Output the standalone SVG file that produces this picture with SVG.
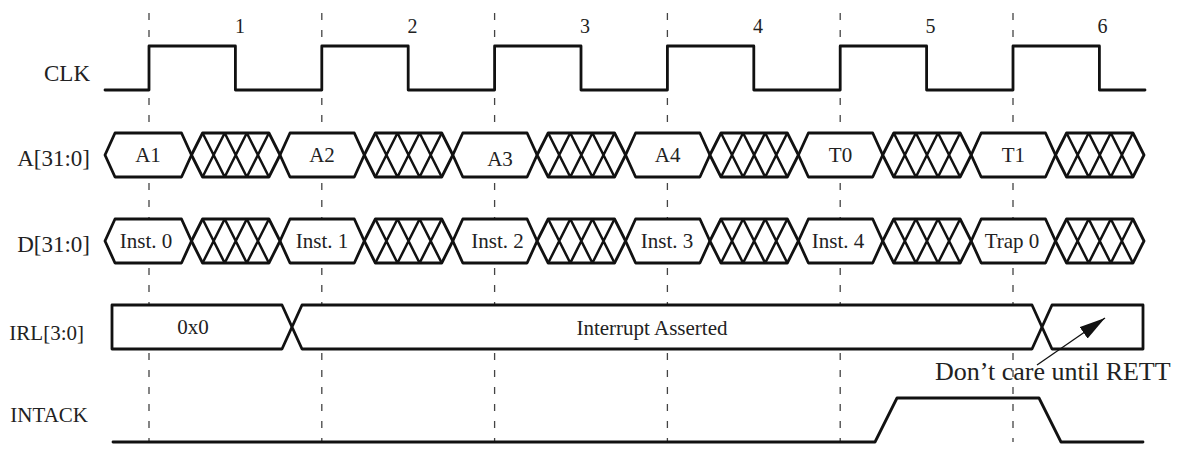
<svg xmlns="http://www.w3.org/2000/svg" xmlns:xlink="http://www.w3.org/1999/xlink" width="1186" height="450" viewBox="0 0 1186 450">
<style>
.sig{fill:none;stroke:#111;stroke-width:2.8;stroke-linejoin:round;stroke-linecap:round}
.box{fill:#fff;stroke:#111;stroke-width:2.8;stroke-linejoin:round}
.hl{stroke:#111;stroke-width:2.5;fill:none}
.dash{stroke:#444;stroke-width:1.3;stroke-dasharray:7 10;fill:none}
text{font-family:"Liberation Serif","Times New Roman",serif;fill:#222}
.lbl{font-size:23px;text-anchor:end}
.lbl2{font-size:21px;text-anchor:end}
.num{font-size:20px;text-anchor:middle}
.bt{font-size:21px;text-anchor:middle}
</style>
<defs>
<g id="hatch">
<polygon class="box" points="0,0 11.06,-22 77.44,-22 88.5,0 77.44,22 11.06,22"/>
<path class="hl" d="M11.06,-22 L33.19,22 M11.06,22 L33.19,-22 M33.19,-22 L55.31,22 M33.19,22 L55.31,-22 M55.31,-22 L77.44,22 M55.31,22 L77.44,-22"/>
</g>
<marker id="ah" markerUnits="userSpaceOnUse" markerWidth="26" markerHeight="14" refX="26" refY="7" orient="auto">
<path d="M0,0 L26,7 L0,14 z" fill="#111"/>
</marker>
</defs>
<rect width="1186" height="450" fill="#fff"/>

<g id="connectors">
<path class="dash" d="M149,13 V442 M321.8,13 V442 M494.6,13 V442 M667.4,13 V442 M840.2,13 V442 M1013,13 V442"/>
</g>

<g id="cycle-numbers">
<text class="num" x="240" y="33">1</text>
<text class="num" x="412.5" y="33">2</text>
<text class="num" x="585" y="33">3</text>
<text class="num" x="758" y="33">4</text>
<text class="num" x="930.5" y="33">5</text>
<text class="num" x="1102.5" y="33">6</text>
</g>

<g id="clk">
<text class="lbl" x="90" y="81">CLK</text>
<path class="sig" d="M105,90 H149 V46 H235.4 V90 H321.8 V46 H408.2 V90 H494.6 V46 H581 V90 H667.4 V46 H753.8 V90 H840.2 V46 H926.6 V90 H1013 V46 H1099.4 V90 H1145"/>
</g>

<g id="addr">
<text class="lbl" x="90" y="166">A[31:0]</text>
<polygon class="box" points="105,155 115,133 181.5,133 191.5,155 181.5,177 115,177"/>
<polygon class="box" points="280,155 290,133 354.3,133 364.3,155 354.3,177 290,177"/>
<polygon class="box" points="452.8,155 462.8,133 527.1,133 537.1,155 527.1,177 462.8,177"/>
<polygon class="box" points="625.6,155 635.6,133 699.9,133 709.9,155 699.9,177 635.6,177"/>
<polygon class="box" points="798.4,155 808.4,133 872.7,133 882.7,155 872.7,177 808.4,177"/>
<polygon class="box" points="971.2,155 981.2,133 1045.5,133 1055.5,155 1045.5,177 981.2,177"/>
<use xlink:href="#hatch" transform="translate(191.5,155)"/>
<use xlink:href="#hatch" transform="translate(364.3,155)"/>
<use xlink:href="#hatch" transform="translate(537.1,155)"/>
<use xlink:href="#hatch" transform="translate(709.9,155)"/>
<use xlink:href="#hatch" transform="translate(882.7,155)"/>
<use xlink:href="#hatch" transform="translate(1055.5,155)"/>
<text class="bt" x="148" y="162">A1</text>
<text class="bt" x="322" y="162">A2</text>
<text class="bt" x="500" y="166">A3</text>
<text class="bt" x="667.6" y="162">A4</text>
<text class="bt" x="840.5" y="162">T0</text>
<text class="bt" x="1013.3" y="162">T1</text>
</g>

<g id="data">
<text class="lbl" x="90" y="252">D[31:0]</text>
<polygon class="box" points="105,241 115,219 181.5,219 191.5,241 181.5,263 115,263"/>
<polygon class="box" points="280,241 290,219 354.3,219 364.3,241 354.3,263 290,263"/>
<polygon class="box" points="452.8,241 462.8,219 527.1,219 537.1,241 527.1,263 462.8,263"/>
<polygon class="box" points="625.6,241 635.6,219 699.9,219 709.9,241 699.9,263 635.6,263"/>
<polygon class="box" points="798.4,241 808.4,219 872.7,219 882.7,241 872.7,263 808.4,263"/>
<polygon class="box" points="971.2,241 981.2,219 1045.5,219 1055.5,241 1045.5,263 981.2,263"/>
<use xlink:href="#hatch" transform="translate(191.5,241)"/>
<use xlink:href="#hatch" transform="translate(364.3,241)"/>
<use xlink:href="#hatch" transform="translate(537.1,241)"/>
<use xlink:href="#hatch" transform="translate(709.9,241)"/>
<use xlink:href="#hatch" transform="translate(882.7,241)"/>
<use xlink:href="#hatch" transform="translate(1055.5,241)"/>
<text class="bt" x="146" y="248">Inst. 0</text>
<text class="bt" x="322" y="248">Inst. 1</text>
<text class="bt" x="497.5" y="248">Inst. 2</text>
<text class="bt" x="667" y="248">Inst. 3</text>
<text class="bt" x="838" y="248">Inst. 4</text>
<text class="bt" x="1012" y="248">Trap 0</text>
</g>

<g id="irl">
<text class="lbl2" x="84" y="340">IRL[3:0]</text>
<polygon class="box" points="112,305 282,305 292,327 282,349 112,349"/>
<polygon class="box" points="292,327 302,305 1032,305 1042,327 1032,349 302,349"/>
<polygon class="box" points="1042,327 1052,305 1143,305 1143,349 1052,349"/>
<text class="bt" x="193" y="334">0x0</text>
<text class="bt" x="652" y="335">Interrupt Asserted</text>
</g>

<g id="intack">
<text class="lbl2" x="88" y="422">INTACK</text>
<path class="sig" d="M113,442 H875 L897,398 H1039 L1061,442 H1143"/>
</g>

<g id="note">
<text x="935" y="380" style="font-size:26px">Don’t care until RETT</text>
<line x1="1037" y1="365" x2="1105" y2="318" stroke="#111" stroke-width="1.3" marker-end="url(#ah)"/>
</g>
</svg>
